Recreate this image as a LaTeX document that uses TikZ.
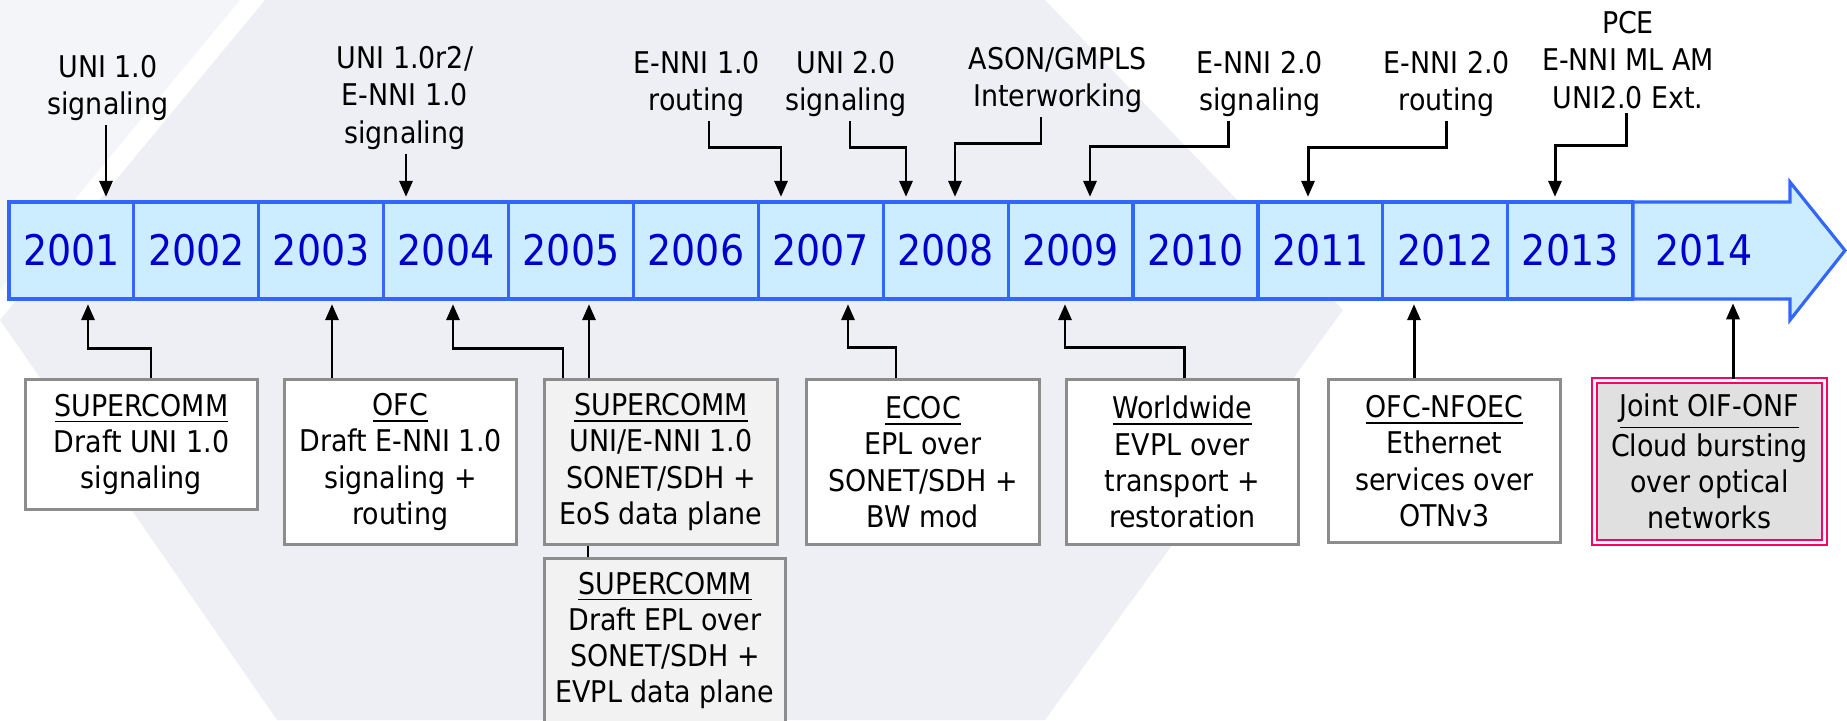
\documentclass[tikz,border=0pt]{standalone}
\usepackage{fontspec}
\setmainfont{DejaVu Sans Condensed}
\usetikzlibrary{arrows.meta}

\definecolor{barblue}{HTML}{3366FF}
\definecolor{barfill}{HTML}{CCECFF}
\definecolor{yearblue}{HTML}{0000CC}
\definecolor{boxgray}{HTML}{8C8C8C}
\definecolor{shadegray}{HTML}{F2F2F2}
\definecolor{jointred}{HTML}{FF0066}
\definecolor{jointfill}{HTML}{E0E0E0}
\definecolor{wmark}{HTML}{EEEFF5}
\definecolor{wmarklight}{HTML}{F4F5F8}

\tikzset{
  yearcell/.style={draw=barblue, fill=barfill, line width=0.9pt,
    minimum width=1.249cm, minimum height=0.97cm, inner sep=0pt,
    text=yearblue, font=\fontsize{12}{14}\selectfont},
  toplabel/.style={align=center, inner sep=1pt, font=\fontsize{8.5}{10.6}\selectfont},
  event/.style={draw=boxgray, line width=0.85pt, fill=white, align=center,
    inner sep=0pt, font=\fontsize{8.5}{10.3}\selectfont},
  link/.style={line width=0.85pt, shorten >=1pt, -{Triangle[length=0.16cm,width=0.13cm]}},
}

\begin{document}
\begin{tikzpicture}[x=0.01cm, y=-0.01cm]
  \useasboundingbox (0,0) rectangle (1847,720);

  % watermark
  \fill[wmarklight] (0,0) -- (240,0) -- (0,290) -- cycle;
  \fill[wmark] (265,0) -- (1045,0) -- (1343,310) -- (1045,720) -- (277,720) -- (0,320) -- cycle;

  \filldraw[draw=barblue, fill=barfill, line width=0.9pt]
    (1633,202) -- (1790,202) -- (1790,182) -- (1845,250.5) -- (1790,320) -- (1790,299) -- (1633,299) -- cycle;
  \node[text=yearblue, font=\fontsize{12}{14}\selectfont, minimum height=0.97cm, inner sep=0pt] (y2014) at (1704,250.5) {2014};
  \foreach \yr [count=\i from 0] in {2001,...,2013}
    \node[yearcell] (y\yr) at ({71.45+124.9*\i},250.5) {\yr};

  \node[toplabel] (u1) at (108,88) {UNI 1.0\\signaling};
  \node[toplabel] (u1r2) at (405,98) {UNI 1.0r2/\\E-NNI 1.0\\signaling};
  \node[toplabel] (e1r) at (697,84) {E-NNI 1.0\\routing};
  \node[toplabel] (u2) at (846,84) {UNI 2.0\\signaling};
  \node[toplabel] (ason) at (1058,80) {ASON/GMPLS\\Interworking};
  \node[toplabel] (e2s) at (1260,84) {E-NNI 2.0\\signaling};
  \node[toplabel] (e2r) at (1447,84) {E-NNI 2.0\\routing};
  \node[toplabel] (pce) at (1628,60) {PCE\\E-NNI ML AM\\UNI2.0 Ext.};

  \draw[link] (106,0 |- u1.south) -- (106,0 |- y2001.north);
  \draw[link] (406,0 |- u1r2.south) -- (406,0 |- y2004.north);
  \draw[link] (709,0 |- e1r.south) |- (781,147) -- (781,0 |- y2007.north);
  \draw[link] (850,0 |- u2.south) |- (906,147) -- (906,0 |- y2008.north);
  \draw[link] (1041,0 |- ason.south) |- (955,143) -- (955,0 |- y2008.north);
  \draw[link] (1228,0 |- e2s.south) |- (1090,146) -- (1090,0 |- y2009.north);
  \draw[link] (1446,0 |- e2r.south) |- (1308,147) -- (1308,0 |- y2011.north);
  \draw[link] (1626,0 |- pce.south) |- (1555,145) -- (1555,0 |- y2013.north);

  \node[event, minimum width=2.31cm, minimum height=1.29cm] (sc1) at (141.5,444.5)
    {\underline{SUPERCOMM}\\Draft UNI 1.0\\signaling};
  \node[event, minimum width=2.31cm, minimum height=1.64cm] (ofc) at (400.5,462)
    {\underline{OFC}\\Draft E-NNI 1.0\\signaling +\\routing};
  \node[event, fill=shadegray, minimum width=2.32cm, minimum height=1.64cm] (sc2) at (661,462)
    {\underline{SUPERCOMM}\\UNI/E-NNI 1.0\\SONET/SDH +\\EoS data plane};
  \node[event, fill=shadegray, minimum width=2.40cm, minimum height=1.63cm] (sc3) at (665,640.5)
    {\underline{SUPERCOMM}\\Draft EPL over\\SONET/SDH +\\EVPL data plane};
  \node[event, minimum width=2.32cm, minimum height=1.64cm] (ecoc) at (923,462)
    {\underline{ECOC}\\EPL over\\SONET/SDH +\\BW mod};
  \node[event, minimum width=2.31cm, minimum height=1.64cm] (ww) at (1182.5,462)
    {\underline{Worldwide}\\EVPL over\\transport +\\restoration};
  \node[event, minimum width=2.31cm, minimum height=1.62cm] (nfoec) at (1444.5,461)
    {\underline{OFC-NFOEC}\\Ethernet\\services over\\OTNv3};
  \node[event, draw=jointred, double=white, double distance=0.03cm, line width=0.6pt,
    fill=jointfill, minimum width=2.30cm, minimum height=1.62cm] (joint) at (1709.5,461.5)
    {\underline{Joint OIF-ONF}\\[1pt]Cloud bursting\\over optical\\networks};

  \draw[link] (151,0 |- sc1.north) |- (88,348) -- (88,0 |- y2001.south);
  \draw[link] (332,0 |- ofc.north) -- (332,0 |- y2003.south);
  \draw[link] (563,0 |- sc2.north) |- (453,348) -- (453,0 |- y2004.south);
  \draw[link] (589,0 |- sc2.north) -- (589,0 |- y2005.south);
  \draw[line width=0.85pt] (588,0 |- sc2.south) -- (588,0 |- sc3.north);
  \draw[link] (896,0 |- ecoc.north) |- (848,347) -- (848,0 |- y2007.south);
  \draw[link] (1184,0 |- ww.north) |- (1065,347) -- (1065,0 |- y2009.south);
  \draw[link] (1414,0 |- nfoec.north) -- (1414,0 |- y2012.south);
  \draw[link] (1733,0 |- joint.north) -- (1733,0 |- y2014.south);

\end{tikzpicture}
\end{document}
